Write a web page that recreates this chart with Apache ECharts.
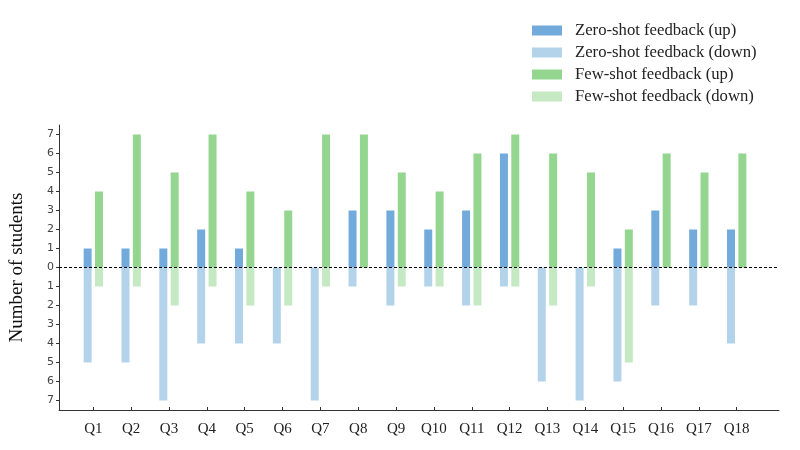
<!DOCTYPE html>
<html>
<head>
<meta charset="utf-8">
<script src="https://cdn.jsdelivr.net/npm/echarts@6/dist/echarts.min.js"></script>
<style>
  html, body { margin: 0; padding: 0; background: #fff; }
  #grafico { width: 800px; height: 450px; }
</style>
</head>
<body>
<div id="grafico"></div>
<script>
// --- Preguntas (eje x) ---
const preguntas = ["Q1", "Q2", "Q3", "Q4", "Q5", "Q6", "Q7", "Q8", "Q9", "Q10", "Q11", "Q12", "Q13", "Q14", "Q15", "Q16", "Q17", "Q18"];

// --- Numero de estudiantes por pregunta ---
const zeroUp   = [1, 1, 1, 2, 1, 0, 0, 3, 3, 2, 3, 6, 0, 0, 1, 3, 2, 2];
const zeroDown = [5, 5, 7, 4, 4, 4, 7, 1, 2, 1, 2, 1, 6, 7, 6, 2, 2, 4];
const fewUp    = [4, 7, 5, 7, 4, 3, 7, 7, 5, 4, 6, 7, 6, 5, 2, 6, 5, 6];
const fewDown  = [1, 1, 2, 1, 2, 2, 1, 0, 1, 1, 2, 1, 2, 1, 5, 0, 0, 0];

const yTicks = [-7, -6, -5, -4, -3, -2, -1, 0, 1, 2, 3, 4, 5, 6, 7];

const nombres = [
    "Zero-shot feedback (up)",
    "Zero-shot feedback (down)",
    "Few-shot feedback (up)",
    "Few-shot feedback (down)"
];
const colores = ["#72aadb", "#b3d3eb", "#94d690", "#c5e9c2"];

var myChart = echarts.init(document.getElementById("grafico"));

const serieBase = (nombre, color, stack, datos) => ({
    name: nombre,
    type: "bar",
    stack: stack,
    xAxisIndex: 1,
    yAxisIndex: 1,
    barWidth: 8,
    barGap: "42%",
    itemStyle: { color: color },
    data: datos
});

const series = [
    serieBase(nombres[0], colores[0], "zero", zeroUp),
    serieBase(nombres[1], colores[1], "zero", zeroDown.map((v) => -v)),
    serieBase(nombres[2], colores[2], "few", fewUp),
    serieBase(nombres[3], colores[3], "few", fewDown.map((v) => -v)),
    // serie vacia solo para la linea punteada en cero (ocupa todo el ancho)
    {
        type: "line",
        xAxisIndex: 0,
        yAxisIndex: 0,
        data: [],
        markLine: {
            silent: true,
            symbol: "none",
            label: { show: false },
            lineStyle: { color: "#000", type: [3, 2], width: 1 },
            data: [{ yAxis: 0 }]
        }
    }
];

const yComun = {
    type: "value",
    min: -7.5,
    max: 7.5,
    splitLine: { show: false }
};

myChart.setOption({
    animation: false,
    legend: {
        orient: "vertical",
        left: 532,
        top: 22,
        padding: 0,
        icon: "rect",
        itemWidth: 30,
        itemHeight: 10,
        itemGap: 5,
        data: nombres,
        textStyle: {
            fontFamily: "Liberation Serif",
            fontSize: 16.7,
            lineHeight: 16,
            color: "#222",
            padding: [0, 0, 0, 8]
        }
    },
    grid: [
        // marco de ejes completo
        { left: 52, right: 21, top: 125, bottom: 40 },
        // zona de las barras
        { left: 74.4, right: 44.4, top: 125, bottom: 40 }
    ],
    xAxis: [
        {
            type: "value",
            gridIndex: 0,
            min: 0,
            max: 1,
            splitLine: { show: false },
            axisLine: { onZero: false, lineStyle: { color: "#333", width: 1 } },
            axisTick: { show: false },
            axisLabel: { show: false }
        },
        {
            type: "category",
            gridIndex: 1,
            data: preguntas,
            axisLine: { show: false, onZero: false },
            axisTick: {
                show: true,
                inside: true,
                alignWithLabel: true,
                length: 3,
                lineStyle: { color: "#333" }
            },
            axisLabel: {
                fontFamily: "Liberation Serif",
                fontSize: 15,
                color: "#222",
                margin: 12
            }
        }
    ],
    yAxis: [
        Object.assign({}, yComun, {
            gridIndex: 0,
            name: "Number of students",
            nameLocation: "middle",
            nameGap: 32,
            nameTextStyle: {
                fontFamily: "Liberation Serif",
                fontSize: 19,
                color: "#111"
            },
            axisLine: { show: true, lineStyle: { color: "#333", width: 1 } },
            axisTick: {
                show: true,
                length: 3,
                customValues: yTicks,
                lineStyle: { color: "#333" }
            },
            axisLabel: {
                customValues: yTicks,
                formatter: (v) => String(Math.abs(v)),
                fontFamily: "DejaVu Sans",
                fontSize: 11,
                color: "#444",
                margin: 5
            }
        }),
        Object.assign({}, yComun, {
            gridIndex: 1,
            show: false
        })
    ],
    series: series
});
</script>
</body>
</html>
